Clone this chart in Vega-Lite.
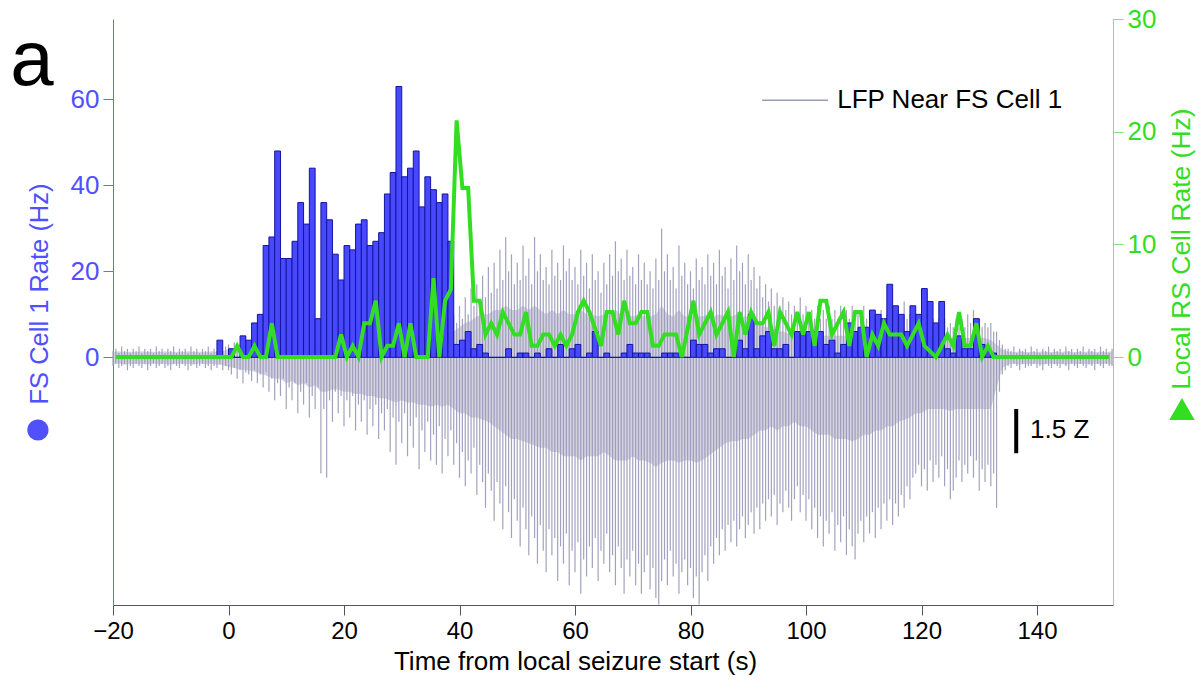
{
  "$schema": "https://vega.github.io/schema/vega-lite/v6.json",
  "width": 1000,
  "height": 586,
  "autosize": "none",
  "padding": {"left": 113, "top": 19, "right": 86, "bottom": 75},
  "background": "white",
  "config": {"font": "Liberation Sans", "view": {"stroke": null}, "axis": {"grid": false}},
  "datasets": {
    "bins": [
      {"s":-20,"e":-19,"c":-19.5,"rs":0},{"s":-19,"e":-18,"c":-18.5,"rs":0},{"s":-18,"e":-17,"c":-17.5,"rs":0},{"s":-17,"e":-16,"c":-16.5,"rs":0},{"s":-16,"e":-15,"c":-15.5,"rs":0},{"s":-15,"e":-14,"c":-14.5,"rs":0},{"s":-14,"e":-13,"c":-13.5,"rs":0},{"s":-13,"e":-12,"c":-12.5,"rs":0},{"s":-12,"e":-11,"c":-11.5,"rs":0},{"s":-11,"e":-10,"c":-10.5,"rs":0},{"s":-10,"e":-9,"c":-9.5,"rs":0},{"s":-9,"e":-8,"c":-8.5,"rs":0},{"s":-8,"e":-7,"c":-7.5,"rs":0},{"s":-7,"e":-6,"c":-6.5,"rs":0},{"s":-6,"e":-5,"c":-5.5,"rs":0},{"s":-5,"e":-4,"c":-4.5,"rs":0},{"s":-4,"e":-3,"c":-3.5,"rs":0},{"s":-3,"e":-2,"c":-2.5,"rs":0},
      {"s":-2,"e":-1,"c":-1.5,"fs":4,"rs":0},{"s":-1,"e":0,"c":-0.5,"fs":0,"rs":0},{"s":0,"e":1,"c":0.5,"fs":2,"rs":0},{"s":1,"e":2,"c":1.5,"fs":0,"rs":1},{"s":2,"e":3,"c":2.5,"fs":5,"rs":0},{"s":3,"e":4,"c":3.5,"fs":4,"rs":0},{"s":4,"e":5,"c":4.5,"fs":8,"rs":1},{"s":5,"e":6,"c":5.5,"fs":10,"rs":0},{"s":6,"e":7,"c":6.5,"fs":26,"rs":0},{"s":7,"e":8,"c":7.5,"fs":28,"rs":3},{"s":8,"e":9,"c":8.5,"fs":48,"rs":0},{"s":9,"e":10,"c":9.5,"fs":23,"rs":0},
      {"s":10,"e":11,"c":10.5,"fs":23,"rs":0},{"s":11,"e":12,"c":11.5,"fs":27,"rs":0},{"s":12,"e":13,"c":12.5,"fs":36,"rs":0},{"s":13,"e":14,"c":13.5,"fs":31,"rs":0},{"s":14,"e":15,"c":14.5,"fs":44,"rs":0},{"s":15,"e":16,"c":15.5,"fs":9,"rs":0},{"s":16,"e":17,"c":16.5,"fs":36,"rs":0},{"s":17,"e":18,"c":17.5,"fs":32,"rs":0},{"s":18,"e":19,"c":18.5,"fs":24,"rs":0},{"s":19,"e":20,"c":19.5,"fs":18,"rs":2},
      {"s":20,"e":21,"c":20.5,"fs":26,"rs":0},{"s":21,"e":22,"c":21.5,"fs":25,"rs":1},{"s":22,"e":23,"c":22.5,"fs":31,"rs":0},{"s":23,"e":24,"c":23.5,"fs":32,"rs":3},{"s":24,"e":25,"c":24.5,"fs":26,"rs":3},{"s":25,"e":26,"c":25.5,"fs":27,"rs":5},{"s":26,"e":27,"c":26.5,"fs":29,"rs":0},{"s":27,"e":28,"c":27.5,"fs":38,"rs":1},{"s":28,"e":29,"c":28.5,"fs":43,"rs":1},{"s":29,"e":30,"c":29.5,"fs":63,"rs":3},
      {"s":30,"e":31,"c":30.5,"fs":42,"rs":0},{"s":31,"e":32,"c":31.5,"fs":44,"rs":3},{"s":32,"e":33,"c":32.5,"fs":48,"rs":0},{"s":33,"e":34,"c":33.5,"fs":35,"rs":0},{"s":34,"e":35,"c":34.5,"fs":42,"rs":0},{"s":35,"e":36,"c":35.5,"fs":39,"rs":7},{"s":36,"e":37,"c":36.5,"fs":36,"rs":0},{"s":37,"e":38,"c":37.5,"fs":38,"rs":5},{"s":38,"e":39,"c":38.5,"fs":27,"rs":6},{"s":39,"e":40,"c":39.5,"fs":3,"rs":21},
      {"s":40,"e":41,"c":40.5,"fs":4,"rs":15},{"s":41,"e":42,"c":41.5,"fs":6,"rs":15},{"s":42,"e":43,"c":42.5,"fs":2,"rs":5},{"s":43,"e":44,"c":43.5,"fs":3,"rs":5},{"s":44,"e":45,"c":44.5,"fs":1,"rs":2},{"s":45,"e":46,"c":45.5,"fs":0,"rs":3},{"s":46,"e":47,"c":46.5,"fs":0,"rs":2},{"s":47,"e":48,"c":47.5,"fs":0,"rs":4},{"s":48,"e":49,"c":48.5,"fs":2,"rs":3},{"s":49,"e":50,"c":49.5,"fs":0,"rs":2},
      {"s":50,"e":51,"c":50.5,"fs":1,"rs":2},{"s":51,"e":52,"c":51.5,"fs":1,"rs":4},{"s":52,"e":53,"c":52.5,"fs":0,"rs":1},{"s":53,"e":54,"c":53.5,"fs":1,"rs":1},{"s":54,"e":55,"c":54.5,"fs":0,"rs":2},{"s":55,"e":56,"c":55.5,"fs":2,"rs":2},{"s":56,"e":57,"c":56.5,"fs":0,"rs":1},{"s":57,"e":58,"c":57.5,"fs":3,"rs":2},{"s":58,"e":59,"c":58.5,"fs":0,"rs":1},{"s":59,"e":60,"c":59.5,"fs":2,"rs":2},
      {"s":60,"e":61,"c":60.5,"fs":3,"rs":4},{"s":61,"e":62,"c":61.5,"fs":0,"rs":5},{"s":62,"e":63,"c":62.5,"fs":1,"rs":4},{"s":63,"e":64,"c":63.5,"fs":6,"rs":2.5},{"s":64,"e":65,"c":64.5,"fs":0,"rs":1},{"s":65,"e":66,"c":65.5,"fs":1,"rs":4},{"s":66,"e":67,"c":66.5,"fs":0,"rs":4},{"s":67,"e":68,"c":67.5,"fs":0,"rs":2},{"s":68,"e":69,"c":68.5,"fs":1,"rs":5},{"s":69,"e":70,"c":69.5,"fs":3,"rs":3},
      {"s":70,"e":71,"c":70.5,"fs":1,"rs":3},{"s":71,"e":72,"c":71.5,"fs":1,"rs":4},{"s":72,"e":73,"c":72.5,"fs":1,"rs":4},{"s":73,"e":74,"c":73.5,"fs":0,"rs":1},{"s":74,"e":75,"c":74.5,"fs":0,"rs":1},{"s":75,"e":76,"c":75.5,"fs":1,"rs":2},{"s":76,"e":77,"c":76.5,"fs":1,"rs":2},{"s":77,"e":78,"c":77.5,"fs":1,"rs":2},{"s":78,"e":79,"c":78.5,"fs":0,"rs":0},{"s":79,"e":80,"c":79.5,"fs":0,"rs":2.5},
      {"s":80,"e":81,"c":80.5,"fs":4,"rs":5},{"s":81,"e":82,"c":81.5,"fs":3,"rs":2},{"s":82,"e":83,"c":82.5,"fs":3,"rs":3},{"s":83,"e":84,"c":83.5,"fs":1,"rs":4},{"s":84,"e":85,"c":84.5,"fs":2,"rs":2},{"s":85,"e":86,"c":85.5,"fs":2,"rs":3},{"s":86,"e":87,"c":86.5,"fs":0,"rs":4},{"s":87,"e":88,"c":87.5,"fs":0,"rs":0},{"s":88,"e":89,"c":88.5,"fs":4,"rs":4},{"s":89,"e":90,"c":89.5,"fs":2,"rs":2},
      {"s":90,"e":91,"c":90.5,"fs":10,"rs":4},{"s":91,"e":92,"c":91.5,"fs":2,"rs":3},{"s":92,"e":93,"c":92.5,"fs":5,"rs":3},{"s":93,"e":94,"c":93.5,"fs":6,"rs":4},{"s":94,"e":95,"c":94.5,"fs":2,"rs":1},{"s":95,"e":96,"c":95.5,"fs":2,"rs":4},{"s":96,"e":97,"c":96.5,"fs":3,"rs":3},{"s":97,"e":98,"c":97.5,"fs":0,"rs":2},{"s":98,"e":99,"c":98.5,"fs":6,"rs":4},{"s":99,"e":100,"c":99.5,"fs":6,"rs":2},
      {"s":100,"e":101,"c":100.5,"fs":6,"rs":4},{"s":101,"e":102,"c":101.5,"fs":6,"rs":1},{"s":102,"e":103,"c":102.5,"fs":6,"rs":5},{"s":103,"e":104,"c":103.5,"fs":3,"rs":5},{"s":104,"e":105,"c":104.5,"fs":4,"rs":2},{"s":105,"e":106,"c":105.5,"fs":1,"rs":3},{"s":106,"e":107,"c":106.5,"fs":3,"rs":4},{"s":107,"e":108,"c":107.5,"fs":8,"rs":1},{"s":108,"e":109,"c":108.5,"fs":6,"rs":4},{"s":109,"e":110,"c":109.5,"fs":7,"rs":4},
      {"s":110,"e":111,"c":110.5,"fs":7,"rs":0},{"s":111,"e":112,"c":111.5,"fs":11,"rs":2},{"s":112,"e":113,"c":112.5,"fs":10,"rs":1},{"s":113,"e":114,"c":113.5,"fs":9,"rs":3},{"s":114,"e":115,"c":114.5,"fs":17,"rs":2},{"s":115,"e":116,"c":115.5,"fs":12,"rs":2},{"s":116,"e":117,"c":116.5,"fs":10,"rs":2},{"s":117,"e":118,"c":117.5,"fs":6,"rs":1},{"s":118,"e":119,"c":118.5,"fs":12,"rs":2},{"s":119,"e":120,"c":119.5,"fs":10,"rs":3},
      {"s":120,"e":121,"c":120.5,"fs":16,"rs":1},{"s":121,"e":122,"c":121.5,"fs":13,"rs":0.5},{"s":122,"e":123,"c":122.5,"fs":8,"rs":0},{"s":123,"e":124,"c":123.5,"fs":13,"rs":1},{"s":124,"e":125,"c":124.5,"fs":2,"rs":2},{"s":125,"e":126,"c":125.5,"fs":1,"rs":1},{"s":126,"e":127,"c":126.5,"fs":5,"rs":4},{"s":127,"e":128,"c":127.5,"fs":2,"rs":1},{"s":128,"e":129,"c":128.5,"fs":2,"rs":1},{"s":129,"e":130,"c":129.5,"fs":9,"rs":3},
      {"s":130,"e":131,"c":130.5,"fs":3,"rs":0},{"s":131,"e":132,"c":131.5,"fs":2,"rs":1},{"s":132,"e":133,"c":132.5,"fs":1,"rs":0},{"s":133,"e":134,"c":133.5,"rs":0},{"s":134,"e":135,"c":134.5,"rs":0},{"s":135,"e":136,"c":135.5,"rs":0},{"s":136,"e":137,"c":136.5,"rs":0},{"s":137,"e":138,"c":137.5,"rs":0},{"s":138,"e":139,"c":138.5,"rs":0},{"s":139,"e":140,"c":139.5,"rs":0},
      {"s":140,"e":141,"c":140.5,"rs":0},{"s":141,"e":142,"c":141.5,"rs":0},{"s":142,"e":143,"c":142.5,"rs":0},{"s":143,"e":144,"c":143.5,"rs":0},{"s":144,"e":145,"c":144.5,"rs":0},{"s":145,"e":146,"c":145.5,"rs":0},{"s":146,"e":147,"c":146.5,"rs":0},{"s":147,"e":148,"c":147.5,"rs":0},{"s":148,"e":149,"c":148.5,"rs":0},{"s":149,"e":150,"c":149.5,"rs":0},{"s":150,"e":151,"c":150.5,"rs":0},{"s":151,"e":152,"c":151.5,"rs":0},{"s":152,"e":153,"c":152.5,"rs":0}
    ],
    "core": [
      {"t":-20,"ch":1.2,"cl":-1.6},{"t":-19,"ch":1.4,"cl":-1.4},{"t":-18,"ch":1.2,"cl":-1.7},{"t":-17,"ch":1.3,"cl":-1.5},{"t":-16,"ch":1.2,"cl":-1.6},{"t":-15,"ch":1.4,"cl":-1.5},{"t":-14,"ch":1.2,"cl":-1.7},{"t":-13,"ch":1.3,"cl":-1.4},{"t":-12,"ch":1.2,"cl":-1.6},{"t":-11,"ch":1.4,"cl":-1.5},
      {"t":-10,"ch":1.2,"cl":-1.7},{"t":-9,"ch":1.3,"cl":-1.5},{"t":-8,"ch":1.2,"cl":-1.6},{"t":-7,"ch":1.4,"cl":-1.5},{"t":-6,"ch":1.2,"cl":-1.7},{"t":-5,"ch":1.3,"cl":-1.4},{"t":-4,"ch":1.2,"cl":-1.6},{"t":-3,"ch":1.4,"cl":-1.5},{"t":-2,"ch":1.3,"cl":-1.7},{"t":-1,"ch":1.5,"cl":-1.8},
      {"t":0,"ch":1.8,"cl":-2.2},{"t":1,"ch":1.8,"cl":-2.5},{"t":2,"ch":2,"cl":-2.8},{"t":3,"ch":2,"cl":-3},{"t":4,"ch":2.2,"cl":-3.2},{"t":5,"ch":2.2,"cl":-3.5},{"t":6,"ch":2.4,"cl":-4},{"t":7,"ch":2.4,"cl":-4.5},{"t":8,"ch":2.5,"cl":-5},{"t":9,"ch":2.5,"cl":-5},
      {"t":10,"ch":2.5,"cl":-6},{"t":11,"ch":2.5,"cl":-5.5},{"t":12,"ch":2.6,"cl":-6.5},{"t":13,"ch":2.6,"cl":-6},{"t":14,"ch":2.8,"cl":-7},{"t":15,"ch":2.8,"cl":-6.5},{"t":16,"ch":2.8,"cl":-8},{"t":17,"ch":2.8,"cl":-8},{"t":18,"ch":3,"cl":-7.5},{"t":19,"ch":3,"cl":-7.5},
      {"t":20,"ch":3,"cl":-8},{"t":21,"ch":3,"cl":-8},{"t":22,"ch":3,"cl":-8.5},{"t":23,"ch":3,"cl":-8.5},{"t":24,"ch":3.2,"cl":-9},{"t":25,"ch":3.2,"cl":-9},{"t":26,"ch":3.4,"cl":-9.5},{"t":27,"ch":3.4,"cl":-9.5},{"t":28,"ch":3.5,"cl":-10},{"t":29,"ch":3.5,"cl":-10.5},
      {"t":30,"ch":3.6,"cl":-10},{"t":31,"ch":3.6,"cl":-10.5},{"t":32,"ch":3.8,"cl":-10.5},{"t":33,"ch":3.8,"cl":-11},{"t":34,"ch":4,"cl":-11},{"t":35,"ch":4,"cl":-11.5},{"t":36,"ch":4.5,"cl":-11},{"t":37,"ch":5,"cl":-11.5},{"t":38,"ch":5.5,"cl":-11},{"t":39,"ch":6,"cl":-12},
      {"t":40,"ch":7,"cl":-13},{"t":41,"ch":8,"cl":-13},{"t":42,"ch":8.5,"cl":-14},{"t":43,"ch":9.5,"cl":-14},{"t":44,"ch":10,"cl":-14.5},{"t":45,"ch":10,"cl":-15},{"t":46,"ch":11,"cl":-16},{"t":47,"ch":11,"cl":-17},{"t":48,"ch":12,"cl":-18},{"t":49,"ch":11,"cl":-19},
      {"t":50,"ch":11,"cl":-19},{"t":51,"ch":12,"cl":-19.5},{"t":52,"ch":11,"cl":-20},{"t":53,"ch":12,"cl":-20.5},{"t":54,"ch":11,"cl":-21},{"t":55,"ch":10,"cl":-21},{"t":56,"ch":11,"cl":-22},{"t":57,"ch":10,"cl":-22},{"t":58,"ch":11,"cl":-23},{"t":59,"ch":10,"cl":-23},
      {"t":60,"ch":10,"cl":-23},{"t":61,"ch":11,"cl":-24},{"t":62,"ch":10,"cl":-23},{"t":63,"ch":10,"cl":-23},{"t":64,"ch":9.5,"cl":-23},{"t":65,"ch":10,"cl":-22},{"t":66,"ch":10,"cl":-23},{"t":67,"ch":11,"cl":-24},{"t":68,"ch":10,"cl":-24},{"t":69,"ch":10,"cl":-24},
      {"t":70,"ch":9.5,"cl":-23},{"t":71,"ch":10,"cl":-24},{"t":72,"ch":9.5,"cl":-24},{"t":73,"ch":9.5,"cl":-24.5},{"t":74,"ch":10,"cl":-25.5},{"t":75,"ch":12,"cl":-24.5},{"t":76,"ch":10,"cl":-24},{"t":77,"ch":9.5,"cl":-24},{"t":78,"ch":11,"cl":-24.5},{"t":79,"ch":9.5,"cl":-24},
      {"t":80,"ch":9.5,"cl":-24},{"t":81,"ch":9.5,"cl":-24.5},{"t":82,"ch":9.5,"cl":-24},{"t":83,"ch":10,"cl":-23},{"t":84,"ch":9.5,"cl":-22},{"t":85,"ch":10,"cl":-21},{"t":86,"ch":9.5,"cl":-20},{"t":87,"ch":9.5,"cl":-19.5},{"t":88,"ch":10,"cl":-19.5},{"t":89,"ch":9.5,"cl":-19},
      {"t":90,"ch":9.5,"cl":-19},{"t":91,"ch":8.5,"cl":-18},{"t":92,"ch":8,"cl":-17},{"t":93,"ch":7,"cl":-17},{"t":94,"ch":7,"cl":-16},{"t":95,"ch":6,"cl":-17},{"t":96,"ch":6,"cl":-16},{"t":97,"ch":5.5,"cl":-16},{"t":98,"ch":5.5,"cl":-15},{"t":99,"ch":5.5,"cl":-16},
      {"t":100,"ch":5,"cl":-16},{"t":101,"ch":5,"cl":-17},{"t":102,"ch":5,"cl":-18},{"t":103,"ch":5,"cl":-18},{"t":104,"ch":5,"cl":-18},{"t":105,"ch":5,"cl":-19},{"t":106,"ch":5,"cl":-19},{"t":107,"ch":5,"cl":-19},{"t":108,"ch":5,"cl":-19.5},{"t":109,"ch":5,"cl":-19},
      {"t":110,"ch":5,"cl":-18},{"t":111,"ch":4.5,"cl":-18},{"t":112,"ch":4.5,"cl":-17},{"t":113,"ch":4.5,"cl":-17},{"t":114,"ch":4.5,"cl":-16},{"t":115,"ch":4.5,"cl":-16},{"t":116,"ch":4.5,"cl":-15},{"t":117,"ch":4.5,"cl":-14.5},{"t":118,"ch":4.5,"cl":-14},{"t":119,"ch":4.5,"cl":-13},
      {"t":120,"ch":4.5,"cl":-13},{"t":121,"ch":4.5,"cl":-12},{"t":122,"ch":4.5,"cl":-12},{"t":123,"ch":4.5,"cl":-12},{"t":124,"ch":4.5,"cl":-12},{"t":125,"ch":4.5,"cl":-12.5},{"t":126,"ch":4.5,"cl":-12},{"t":127,"ch":4.5,"cl":-12},{"t":128,"ch":4.5,"cl":-12},{"t":129,"ch":4.5,"cl":-12},
      {"t":130,"ch":4.5,"cl":-12},{"t":131,"ch":4.5,"cl":-12},{"t":132,"ch":4,"cl":-12},{"t":133,"ch":3,"cl":-7},{"t":134,"ch":1.8,"cl":-2.5},{"t":135,"ch":1.3,"cl":-1.6},{"t":136,"ch":1.2,"cl":-1.5},{"t":137,"ch":1.4,"cl":-1.7},{"t":138,"ch":1.2,"cl":-1.5},{"t":139,"ch":1.3,"cl":-1.6},
      {"t":140,"ch":1.2,"cl":-1.5},{"t":141,"ch":1.4,"cl":-1.7},{"t":142,"ch":1.2,"cl":-1.5},{"t":143,"ch":1.3,"cl":-1.6},{"t":144,"ch":1.2,"cl":-1.5},{"t":145,"ch":1.4,"cl":-1.7},{"t":146,"ch":1.2,"cl":-1.5},{"t":147,"ch":1.3,"cl":-1.6},{"t":148,"ch":1.2,"cl":-1.5},{"t":149,"ch":1.4,"cl":-1.7},
      {"t":150,"ch":1.2,"cl":-1.5},{"t":151,"ch":1.3,"cl":-1.6},{"t":152,"ch":1.2,"cl":-1.5},{"t":153,"ch":1.4,"cl":-1.7}
    ],
    "lfp": [
      {"t":-20,"h":1.5,"l":-2},{"t":-19.5,"h":2,"l":-1.5},{"t":-19,"h":1,"l":-2.5},{"t":-18.5,"h":2.5,"l":-2},{"t":-18,"h":1.5,"l":-1.5},{"t":-17.5,"h":2,"l":-3},{"t":-17,"h":1,"l":-2},{"t":-16.5,"h":2,"l":-2.5},{"t":-16,"h":1.5,"l":-1.5},{"t":-15.5,"h":2.5,"l":-2},{"t":-15,"h":1,"l":-2.5},{"t":-14.5,"h":2,"l":-1.5},{"t":-14,"h":1.5,"l":-3},{"t":-13.5,"h":2,"l":-2},{"t":-13,"h":1,"l":-1.5},{"t":-12.5,"h":2.5,"l":-2.5},{"t":-12,"h":1.5,"l":-2},{"t":-11.5,"h":2,"l":-1.5},{"t":-11,"h":1,"l":-2.5},{"t":-10.5,"h":2,"l":-2},
      {"t":-10,"h":1.5,"l":-3},{"t":-9.5,"h":2.5,"l":-1.5},{"t":-9,"h":1,"l":-2},{"t":-8.5,"h":2,"l":-2.5},{"t":-8,"h":1.5,"l":-1.5},{"t":-7.5,"h":2,"l":-2},{"t":-7,"h":1,"l":-3},{"t":-6.5,"h":2.5,"l":-2},{"t":-6,"h":1.5,"l":-1.5},{"t":-5.5,"h":2,"l":-2.5},{"t":-5,"h":1,"l":-2},{"t":-4.5,"h":2,"l":-1.5},{"t":-4,"h":1.5,"l":-2.5},{"t":-3.5,"h":2.5,"l":-2},{"t":-3,"h":1,"l":-3},{"t":-2.5,"h":2,"l":-2},{"t":-2,"h":1.5,"l":-2.5},{"t":-1.5,"h":2,"l":-1.5},{"t":-1,"h":1.5,"l":-3},{"t":-0.5,"h":2.5,"l":-2},
      {"t":0,"h":3,"l":-3},{"t":0.5,"h":2,"l":-4},{"t":1,"h":3.5,"l":-2.5},{"t":1.5,"h":2.5,"l":-5},{"t":2,"h":3,"l":-3},{"t":2.5,"h":2,"l":-6},{"t":3,"h":4,"l":-3.5},{"t":3.5,"h":2.5,"l":-4},{"t":4,"h":3,"l":-5.5},{"t":4.5,"h":2,"l":-3},{"t":5,"h":3.5,"l":-6},{"t":5.5,"h":2.5,"l":-4},{"t":6,"h":3,"l":-7},{"t":6.5,"h":4,"l":-3.5},{"t":7,"h":2.5,"l":-8},{"t":7.5,"h":3,"l":-5},{"t":8,"h":3.5,"l":-10},{"t":8.5,"h":2.5,"l":-6},{"t":9,"h":3,"l":-9},{"t":9.5,"h":4,"l":-5},
      {"t":10,"h":3,"l":-12},{"t":10.5,"h":2.5,"l":-7},{"t":11,"h":3.5,"l":-10},{"t":11.5,"h":3,"l":-6},{"t":12,"h":4,"l":-13},{"t":12.5,"h":3,"l":-8},{"t":13,"h":3.5,"l":-11},{"t":13.5,"h":2.5,"l":-6},{"t":14,"h":4,"l":-14},{"t":14.5,"h":3,"l":-9},{"t":15,"h":3.5,"l":-12},{"t":15.5,"h":3,"l":-7},{"t":16,"h":4,"l":-27},{"t":16.5,"h":3,"l":-12},{"t":17,"h":3.5,"l":-28},{"t":17.5,"h":3,"l":-10},{"t":18,"h":4,"l":-15},{"t":18.5,"h":3,"l":-8},{"t":19,"h":3.5,"l":-13},{"t":19.5,"h":3,"l":-9},
      {"t":20,"h":4,"l":-16},{"t":20.5,"h":3,"l":-10},{"t":21,"h":4,"l":-14},{"t":21.5,"h":3,"l":-9},{"t":22,"h":4.5,"l":-17},{"t":22.5,"h":3,"l":-11},{"t":23,"h":4,"l":-15},{"t":23.5,"h":3.5,"l":-10},{"t":24,"h":4.5,"l":-18},{"t":24.5,"h":3,"l":-12},{"t":25,"h":4,"l":-16},{"t":25.5,"h":3.5,"l":-11},{"t":26,"h":5,"l":-19},{"t":26.5,"h":3,"l":-13},{"t":27,"h":4,"l":-17},{"t":27.5,"h":3.5,"l":-12},{"t":28,"h":5,"l":-22},{"t":28.5,"h":3.5,"l":-14},{"t":29,"h":4.5,"l":-25},{"t":29.5,"h":3.5,"l":-15},
      {"t":30,"h":5,"l":-20},{"t":30.5,"h":4,"l":-13},{"t":31,"h":4.5,"l":-23},{"t":31.5,"h":3.5,"l":-16},{"t":32,"h":5,"l":-21},{"t":32.5,"h":4,"l":-14},{"t":33,"h":5,"l":-26},{"t":33.5,"h":4,"l":-17},{"t":34,"h":5.5,"l":-22},{"t":34.5,"h":4,"l":-15},{"t":35,"h":5,"l":-24},{"t":35.5,"h":4,"l":-18},{"t":36,"h":6,"l":-25},{"t":36.5,"h":5,"l":-16},{"t":37,"h":7,"l":-27},{"t":37.5,"h":6,"l":-19},{"t":38,"h":8,"l":-23},{"t":38.5,"h":7,"l":-17},{"t":39,"h":10,"l":-25},{"t":39.5,"h":8,"l":-20},
      {"t":40,"h":12,"l":-28},{"t":40.5,"h":9,"l":-22},{"t":41,"h":14,"l":-30},{"t":41.5,"h":10,"l":-24},{"t":42,"h":16,"l":-27},{"t":42.5,"h":12,"l":-21},{"t":43,"h":17,"l":-32},{"t":43.5,"h":13,"l":-25},{"t":44,"h":19,"l":-29},{"t":44.5,"h":14,"l":-35},{"t":45,"h":21,"l":-27},{"t":45.5,"h":15,"l":-31},{"t":46,"h":22,"l":-38},{"t":46.5,"h":16,"l":-29},{"t":47,"h":25,"l":-34},{"t":47.5,"h":18,"l":-40},{"t":48,"h":28,"l":-30},{"t":48.5,"h":20,"l":-36},{"t":49,"h":24,"l":-42},{"t":49.5,"h":17,"l":-33},
      {"t":50,"h":22,"l":-38},{"t":50.5,"h":18,"l":-44},{"t":51,"h":26,"l":-35},{"t":51.5,"h":19,"l":-40},{"t":52,"h":23,"l":-46},{"t":52.5,"h":17,"l":-37},{"t":53,"h":28,"l":-42},{"t":53.5,"h":20,"l":-48},{"t":54,"h":24,"l":-39},{"t":54.5,"h":18,"l":-45},{"t":55,"h":21,"l":-50},{"t":55.5,"h":17,"l":-40},{"t":56,"h":25,"l":-46},{"t":56.5,"h":19,"l":-42},{"t":57,"h":22,"l":-52},{"t":57.5,"h":18,"l":-44},{"t":58,"h":26,"l":-48},{"t":58.5,"h":20,"l":-41},{"t":59,"h":23,"l":-53},{"t":59.5,"h":18,"l":-45},
      {"t":60,"h":21,"l":-50},{"t":60.5,"h":17,"l":-43},{"t":61,"h":25,"l":-55},{"t":61.5,"h":19,"l":-47},{"t":62,"h":22,"l":-51},{"t":62.5,"h":16,"l":-44},{"t":63,"h":24,"l":-49},{"t":63.5,"h":18,"l":-42},{"t":64,"h":20,"l":-52},{"t":64.5,"h":15,"l":-45},{"t":65,"h":22,"l":-48},{"t":65.5,"h":17,"l":-41},{"t":66,"h":24,"l":-50},{"t":66.5,"h":19,"l":-46},{"t":67,"h":27,"l":-53},{"t":67.5,"h":20,"l":-44},{"t":68,"h":23,"l":-49},{"t":68.5,"h":18,"l":-55},{"t":69,"h":25,"l":-47},{"t":69.5,"h":19,"l":-51},
      {"t":70,"h":21,"l":-45},{"t":70.5,"h":17,"l":-53},{"t":71,"h":24,"l":-48},{"t":71.5,"h":18,"l":-55},{"t":72,"h":22,"l":-50},{"t":72.5,"h":17,"l":-46},{"t":73,"h":20,"l":-54},{"t":73.5,"h":16,"l":-49},{"t":74,"h":23,"l":-56},{"t":74.5,"h":18,"l":-57.5},{"t":75,"h":30,"l":-52},{"t":75.5,"h":20,"l":-47},{"t":76,"h":24,"l":-53},{"t":76.5,"h":18,"l":-45},{"t":77,"h":21,"l":-51},{"t":77.5,"h":16,"l":-48},{"t":78,"h":26,"l":-55},{"t":78.5,"h":19,"l":-50},{"t":79,"h":22,"l":-47},{"t":79.5,"h":17,"l":-53},
      {"t":80,"h":20,"l":-49},{"t":80.5,"h":16,"l":-56},{"t":81,"h":23,"l":-51},{"t":81.5,"h":18,"l":-57.5},{"t":82,"h":21,"l":-50},{"t":82.5,"h":17,"l":-46},{"t":83,"h":24,"l":-52},{"t":83.5,"h":19,"l":-44},{"t":84,"h":22,"l":-48},{"t":84.5,"h":17,"l":-42},{"t":85,"h":25,"l":-46},{"t":85.5,"h":19,"l":-40},{"t":86,"h":21,"l":-45},{"t":86.5,"h":16,"l":-39},{"t":87,"h":23,"l":-43},{"t":87.5,"h":18,"l":-38},{"t":88,"h":26,"l":-44},{"t":88.5,"h":20,"l":-40},{"t":89,"h":22,"l":-37},{"t":89.5,"h":17,"l":-42},
      {"t":90,"h":24,"l":-39},{"t":90.5,"h":18,"l":-36},{"t":91,"h":21,"l":-41},{"t":91.5,"h":16,"l":-35},{"t":92,"h":19,"l":-40},{"t":92.5,"h":14,"l":-34},{"t":93,"h":17,"l":-38},{"t":93.5,"h":13,"l":-33},{"t":94,"h":16,"l":-37},{"t":94.5,"h":12,"l":-32},{"t":95,"h":15,"l":-39},{"t":95.5,"h":12,"l":-34},{"t":96,"h":14,"l":-36},{"t":96.5,"h":11,"l":-31},{"t":97,"h":13,"l":-35},{"t":97.5,"h":10,"l":-38},{"t":98,"h":12,"l":-33},{"t":98.5,"h":10,"l":-30},{"t":99,"h":14,"l":-36},{"t":99.5,"h":10,"l":-32},
      {"t":100,"h":12,"l":-38},{"t":100.5,"h":9,"l":-33},{"t":101,"h":11,"l":-40},{"t":101.5,"h":9,"l":-35},{"t":102,"h":12,"l":-42},{"t":102.5,"h":9,"l":-37},{"t":103,"h":11,"l":-44},{"t":103.5,"h":9,"l":-38},{"t":104,"h":12,"l":-41},{"t":104.5,"h":9,"l":-36},{"t":105,"h":11,"l":-45},{"t":105.5,"h":9,"l":-39},{"t":106,"h":12,"l":-43},{"t":106.5,"h":9,"l":-37},{"t":107,"h":11,"l":-46},{"t":107.5,"h":9,"l":-40},{"t":108,"h":12,"l":-44},{"t":108.5,"h":9,"l":-47},{"t":109,"h":11,"l":-41},{"t":109.5,"h":9,"l":-38},
      {"t":110,"h":12,"l":-43},{"t":110.5,"h":9,"l":-37},{"t":111,"h":11,"l":-41},{"t":111.5,"h":9,"l":-36},{"t":112,"h":10,"l":-42},{"t":112.5,"h":8,"l":-35},{"t":113,"h":11,"l":-40},{"t":113.5,"h":9,"l":-34},{"t":114,"h":10,"l":-38},{"t":114.5,"h":8,"l":-33},{"t":115,"h":11,"l":-39},{"t":115.5,"h":9,"l":-34},{"t":116,"h":10,"l":-37},{"t":116.5,"h":8,"l":-32},{"t":117,"h":13,"l":-35},{"t":117.5,"h":9,"l":-30},{"t":118,"h":10,"l":-33},{"t":118.5,"h":8,"l":-28},{"t":119,"h":10,"l":-27},{"t":119.5,"h":8,"l":-25},
      {"t":120,"h":10,"l":-30},{"t":120.5,"h":8,"l":-26},{"t":121,"h":9,"l":-31},{"t":121.5,"h":7,"l":-24},{"t":122,"h":9,"l":-29},{"t":122.5,"h":7,"l":-25},{"t":123,"h":9,"l":-28},{"t":123.5,"h":7,"l":-23},{"t":124,"h":9,"l":-30},{"t":124.5,"h":7,"l":-26},{"t":125,"h":8,"l":-33},{"t":125.5,"h":7,"l":-31},{"t":126,"h":9,"l":-28},{"t":126.5,"h":7,"l":-24},{"t":127,"h":9,"l":-29},{"t":127.5,"h":7,"l":-25},{"t":128,"h":10,"l":-27},{"t":128.5,"h":8,"l":-23},{"t":129,"h":11,"l":-28},{"t":129.5,"h":8,"l":-24},
      {"t":130,"h":9,"l":-31},{"t":130.5,"h":7,"l":-26},{"t":131,"h":8,"l":-29},{"t":131.5,"h":7,"l":-25},{"t":132,"h":8,"l":-30},{"t":132.5,"h":6,"l":-27},{"t":133,"h":6,"l":-35},{"t":133.5,"h":4,"l":-8},{"t":134,"h":3,"l":-4},{"t":134.5,"h":2,"l":-3},
      {"t":135,"h":2,"l":-2},{"t":135.5,"h":1.5,"l":-2.5},{"t":136,"h":2.5,"l":-1.5},{"t":136.5,"h":1,"l":-2},{"t":137,"h":2,"l":-3},{"t":137.5,"h":1.5,"l":-1.5},{"t":138,"h":2,"l":-2.5},{"t":138.5,"h":1,"l":-2},{"t":139,"h":2.5,"l":-2},{"t":139.5,"h":1.5,"l":-1.5},{"t":140,"h":2,"l":-2.5},{"t":140.5,"h":1,"l":-2},{"t":141,"h":2,"l":-3},{"t":141.5,"h":1.5,"l":-1.5},{"t":142,"h":2.5,"l":-2},{"t":142.5,"h":1,"l":-2.5},{"t":143,"h":2,"l":-1.5},{"t":143.5,"h":1.5,"l":-2},{"t":144,"h":2,"l":-2.5},{"t":144.5,"h":1,"l":-1.5},
      {"t":145,"h":2.5,"l":-2},{"t":145.5,"h":1.5,"l":-3},{"t":146,"h":2,"l":-1.5},{"t":146.5,"h":1,"l":-2},{"t":147,"h":2,"l":-2.5},{"t":147.5,"h":1.5,"l":-1.5},{"t":148,"h":2.5,"l":-2},{"t":148.5,"h":1,"l":-2.5},{"t":149,"h":2,"l":-1.5},{"t":149.5,"h":1.5,"l":-2},{"t":150,"h":2,"l":-3},{"t":150.5,"h":1,"l":-1.5},{"t":151,"h":2.5,"l":-2},{"t":151.5,"h":1.5,"l":-2.5},{"t":152,"h":2,"l":-1.5},{"t":152.5,"h":1,"l":-2},{"t":153,"h":2,"l":-2}
    ]
  },
  "layer": [
    {
      "layer": [
        {
          "data": {"name": "core"},
          "mark": {"type": "area", "color": "#b4b4cc", "opacity": 0.6},
          "encoding": {
            "x": {"field": "t", "type": "quantitative", "scale": {"domain": [-20, 153.16], "nice": false, "zero": false},
              "axis": {"values": [-20, 0, 20, 40, 60, 80, 100, 120, 140], "title": "Time from local seizure start (s)", "titleX": 462,
                "domainColor": "#555555", "tickColor": "#555555", "tickSize": 10, "labelFontSize": 24, "labelColor": "#000000", "labelPadding": 4,
                "titleFontSize": 26, "titleFontWeight": "normal", "titleColor": "#000000", "titlePadding": 5, "labelFlush": false}},
            "y": {"field": "cl", "type": "quantitative", "scale": {"domain": [-57.6, 78.7], "nice": false, "zero": false},
              "axis": {"values": [0, 20, 40, 60], "title": "FS Cell 1 Rate (Hz)", "titleY": 274.5, "titlePadding": 18,
                "domainColor": "#6a6aff", "tickColor": "#6a6aff", "tickSize": 10, "labelFontSize": 26, "labelColor": "#5050ff", "labelPadding": 4,
                "titleFontSize": 25.5, "titleFontWeight": "normal", "titleColor": "#5050ff"}},
            "y2": {"field": "ch"}
          }
        },
        {
          "data": {"name": "lfp"},
          "mark": {"type": "rule", "color": "#9898b8", "strokeWidth": 1.2, "opacity": 0.9},
          "encoding": {
            "x": {"field": "t", "type": "quantitative", "scale": {"domain": [-20, 153.16], "nice": false, "zero": false}},
            "y": {"field": "l", "type": "quantitative", "scale": {"domain": [-57.6, 78.7], "nice": false, "zero": false}},
            "y2": {"field": "h"}
          }
        },
        {
          "data": {"name": "bins"},
          "transform": [{"filter": "isValid(datum.fs)"}],
          "mark": {"type": "rect", "color": "#4848ff", "stroke": "#1414a0", "strokeWidth": 1},
          "encoding": {
            "x": {"field": "s", "type": "quantitative", "scale": {"domain": [-20, 153.16], "nice": false, "zero": false}},
            "x2": {"field": "e"},
            "y": {"field": "fs", "type": "quantitative", "scale": {"domain": [-57.6, 78.7], "nice": false, "zero": false}},
            "y2": {"datum": 0}
          }
        },
        {
          "data": {"values": [{"x": 92.4, "x2": 103.8, "y": 59.8}]},
          "mark": {"type": "rule", "color": "#9a9ab8", "strokeWidth": 1.5},
          "encoding": {
            "x": {"field": "x", "type": "quantitative", "scale": {"domain": [-20, 153.16], "nice": false, "zero": false}},
            "x2": {"field": "x2"},
            "y": {"field": "y", "type": "quantitative", "scale": {"domain": [-57.6, 78.7], "nice": false, "zero": false}}
          }
        },
        {
          "data": {"values": [{"x": 136.4, "y": -12.0, "y2": -22.3}]},
          "mark": {"type": "rule", "color": "#000000", "strokeWidth": 4},
          "encoding": {
            "x": {"field": "x", "type": "quantitative", "scale": {"domain": [-20, 153.16], "nice": false, "zero": false}},
            "y": {"field": "y", "type": "quantitative", "scale": {"domain": [-57.6, 78.7], "nice": false, "zero": false}},
            "y2": {"field": "y2"}
          }
        },
        {
          "data": {"values": [{"x": 105.4, "y": 59.8, "txt": "LFP Near FS Cell 1"}, {"x": 138.8, "y": -16.9, "txt": "1.5 Z"}]},
          "mark": {"type": "text", "align": "left", "baseline": "middle", "fontSize": 26, "color": "#000000"},
          "encoding": {
            "x": {"field": "x", "type": "quantitative", "scale": {"domain": [-20, 153.16], "nice": false, "zero": false}},
            "y": {"field": "y", "type": "quantitative", "scale": {"domain": [-57.6, 78.7], "nice": false, "zero": false}},
            "text": {"field": "txt"}
          }
        },
        {
          "data": {"values": [{"x": -37.8, "y": 63.3, "txt": "a"}]},
          "mark": {"type": "text", "align": "left", "baseline": "alphabetic", "fontSize": 78, "color": "#000000"},
          "encoding": {
            "x": {"field": "x", "type": "quantitative", "scale": {"domain": [-20, 153.16], "nice": false, "zero": false}},
            "y": {"field": "y", "type": "quantitative", "scale": {"domain": [-57.6, 78.7], "nice": false, "zero": false}},
            "text": {"field": "txt"}
          }
        },
        {
          "data": {"values": [{"x": -33.0, "y": -16.9}]},
          "mark": {"type": "point", "shape": "circle", "filled": true, "size": 450, "color": "#5050ff", "opacity": 1},
          "encoding": {
            "x": {"field": "x", "type": "quantitative", "scale": {"domain": [-20, 153.16], "nice": false, "zero": false}},
            "y": {"field": "y", "type": "quantitative", "scale": {"domain": [-57.6, 78.7], "nice": false, "zero": false}}
          }
        },
        {
          "data": {"values": [{"x": 165.1, "y": -12.0}]},
          "mark": {"type": "point", "shape": "triangle-up", "filled": true, "size": 650, "color": "#33dd22", "opacity": 1},
          "encoding": {
            "x": {"field": "x", "type": "quantitative", "scale": {"domain": [-20, 153.16], "nice": false, "zero": false}},
            "y": {"field": "y", "type": "quantitative", "scale": {"domain": [-57.6, 78.7], "nice": false, "zero": false}}
          }
        }
      ]
    },
    {
      "data": {"name": "bins"},
      "mark": {"type": "line", "color": "#33dd22", "strokeWidth": 4, "strokeJoin": "miter"},
      "encoding": {
        "x": {"field": "c", "type": "quantitative", "scale": {"domain": [-20, 153.16], "nice": false, "zero": false}},
        "y": {"field": "rs", "type": "quantitative", "scale": {"domain": [-22, 30], "nice": false, "zero": false},
          "axis": {"orient": "right", "values": [0, 10, 20, 30], "title": "Local RS Cell Rate (Hz)", "titleAngle": 270, "titleY": 229.5, "titlePadding": 40,
            "domainColor": "#80e080", "tickColor": "#80e080", "tickSize": 10, "labelFontSize": 26, "labelColor": "#33dd22", "labelPadding": 4,
            "titleFontSize": 26.5, "titleFontWeight": "normal", "titleColor": "#33dd22"}}
      }
    }
  ],
  "resolve": {"scale": {"y": "independent"}}
}
